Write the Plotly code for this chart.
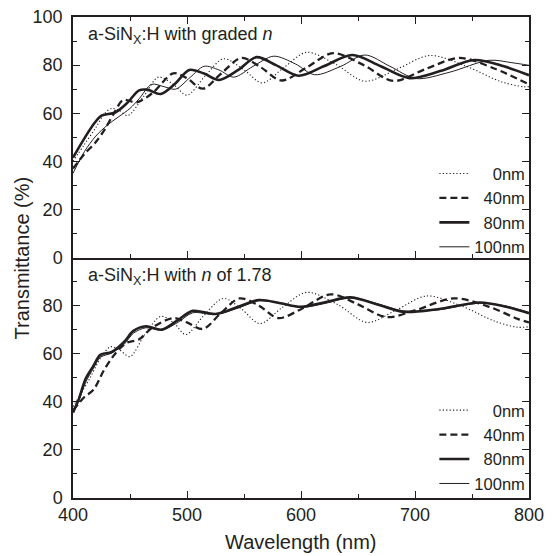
import plotly.graph_objects as go
from plotly.subplots import make_subplots

# ---------------- data ----------------
series_labels = ["0nm", "40nm", "80nm", "100nm"]

# Top panel: a-SiNx:H with graded n
top_0nm_wl = [400, 410, 420, 428, 434, 441, 448, 462, 475, 488, 500, 516, 532, 550, 566, 585, 605, 630, 656, 685, 713, 745, 776, 795, 800]
top_0nm_T = [40, 47, 54, 60, 62, 61, 59, 67, 75, 72, 67.5, 75.5, 82.6, 78, 72.6, 79, 85.3, 80.5, 73.3, 78.5, 84, 79.5, 73, 71, 71]

top_40nm_wl = [400, 410, 420, 428, 436, 444, 456, 470, 488, 500, 514, 530, 548, 565, 583, 605, 628, 655, 681, 710, 739, 770, 800]
top_40nm_T = [37, 43, 48, 53.4, 60, 65.5, 64.5, 68.5, 76.6, 74.5, 70.2, 76.5, 83, 79, 73.6, 79, 85, 80, 73.4, 78.5, 83, 78.5, 72]

top_80nm_wl = [400, 408, 419, 425, 437, 447, 458, 465, 477, 490, 502, 515, 528, 545, 561, 578, 598, 620, 645, 670, 695, 722, 752, 778, 800]
top_80nm_T = [41.5, 48, 56, 59, 60.3, 64, 69.5, 69.8, 68, 72.5, 78, 76.5, 73.8, 78, 83.3, 80, 75.6, 79.5, 84.2, 79.5, 74.6, 77.5, 82.1, 79.5, 75.8]

top_100nm_wl = [400, 410, 420, 430, 440, 450, 458, 469, 480, 490, 503, 515, 528, 541, 558, 576, 595, 612, 635, 656, 678, 701, 730, 765, 785, 800]
top_100nm_T = [35, 44, 50.5, 55, 58.5, 62, 66, 72, 71, 70, 75, 79.5, 78, 75, 79.5, 83.7, 80.5, 76, 79.5, 84.2, 79.5, 74.4, 77, 82, 81, 79.9]

# Bottom panel: a-SiNx:H with n of 1.78
bot_0nm_wl = [400, 406, 415, 424, 433, 441, 450, 463, 477, 488, 499, 515, 532, 548, 564, 583, 605, 632, 658, 683, 710, 740, 770, 790, 800]
bot_0nm_T = [38, 42.7, 50, 58, 62.9, 61.5, 58.8, 68, 75.5, 73, 68, 76, 83, 78.5, 72.5, 79, 85.5, 80.5, 73, 78, 84, 80, 73.5, 71, 71.2]

bot_40nm_wl = [400, 410, 418, 427, 437, 447, 458, 470, 488, 500, 514, 530, 546, 563, 580, 600, 626, 650, 675, 700, 734, 765, 790, 800]
bot_40nm_T = [36.5, 42, 45, 53, 60, 64.5, 66, 71, 74.8, 73, 70.3, 77, 83, 80, 74.8, 78.5, 84.7, 80.5, 75.2, 78, 83, 79.5, 74.5, 73]

bot_80nm_wl = [400, 405, 411, 418, 424, 434, 445, 453, 464, 478, 492, 505, 525, 545, 563, 582, 600, 622, 643, 667, 690, 720, 757, 780, 800]
bot_80nm_T = [35.5, 41, 49.5, 55, 59.5, 60.7, 65, 69.5, 71.4, 70, 74, 77.8, 76.5, 79.5, 82.3, 81, 79.5, 81.5, 83.4, 80.5, 77.4, 78.5, 81.3, 79.5, 76.8]

bot_100nm_wl = [400, 405, 411, 418, 424, 434, 445, 453, 464, 478, 492, 505, 525, 545, 563, 582, 600, 622, 643, 667, 690, 720, 757, 780, 800]
bot_100nm_T = [36, 40.5, 48, 54, 58.5, 60.3, 64, 68.5, 70.8, 69.8, 73, 77, 76.3, 79, 82, 81, 79.2, 81, 83.2, 80.8, 77.8, 78.2, 81, 79.8, 77.2]

x_ticks = [400, 500, 600, 700, 800]
y_ticks_top = [0, 20, 40, 60, 80, 100]
y_ticks_bot = [0, 20, 40, 60, 80, 100]
y_ticktext_bot = ["0", "20", "40", "60", "80", " "]

# ---------------- styles ----------------
INK = "#231f20"
FONT = "Liberation Sans, Arial, Helvetica, sans-serif"
styles = {
    "0nm": dict(color=INK, width=1.1, dash="1.2px,2.2px"),
    "40nm": dict(color=INK, width=2.3, dash="7px,4px"),
    "80nm": dict(color=INK, width=2.6, dash="solid"),
    "100nm": dict(color=INK, width=1.0, dash="solid"),
}
# right-aligned legend names (figure spaces have digit width)
legend_names = {"0nm": "\u2007\u20070nm", "40nm": "\u200740nm", "80nm": "\u200780nm", "100nm": "100nm"}

fig = make_subplots(rows=2, cols=1, shared_xaxes=True, vertical_spacing=0)

top = [(top_0nm_wl, top_0nm_T), (top_40nm_wl, top_40nm_T), (top_80nm_wl, top_80nm_T), (top_100nm_wl, top_100nm_T)]
bot = [(bot_0nm_wl, bot_0nm_T), (bot_40nm_wl, bot_40nm_T), (bot_80nm_wl, bot_80nm_T), (bot_100nm_wl, bot_100nm_T)]

for lab, (xw, yt) in zip(series_labels, top):
    fig.add_trace(go.Scatter(x=xw, y=yt, mode="lines", name=legend_names[lab],
                             line=dict(shape="spline", smoothing=0.9, **styles[lab]),
                             legend="legend"), row=1, col=1)
for lab, (xw, yt) in zip(series_labels, bot):
    fig.add_trace(go.Scatter(x=xw, y=yt, mode="lines", name=legend_names[lab],
                             line=dict(shape="spline", smoothing=0.9, **styles[lab]),
                             legend="legend2"), row=2, col=1)

axis_common = dict(showline=True, linecolor=INK, linewidth=1.5, automargin=False,
                   ticks="inside", ticklen=7, tickwidth=1.2, tickcolor=INK,
                   showgrid=False, zeroline=False, ticklabeloverflow="allow",
                   tickfont=dict(size=18, color=INK, family=FONT))

fig.update_xaxes(range=[400, 800], tickvals=x_ticks,
                 minor=dict(ticks="inside", dtick=50, ticklen=4, tickcolor=INK, showgrid=False),
                 **axis_common)
fig.update_xaxes(showticklabels=False, mirror="ticks", row=1, col=1)
fig.update_xaxes(mirror=False, row=2, col=1)
fig.update_yaxes(range=[0, 100], mirror="ticks", ticklabelstandoff=5,
                 minor=dict(ticks="inside", dtick=10, ticklen=4, tickcolor=INK, showgrid=False),
                 **axis_common)
fig.update_yaxes(tickvals=y_ticks_top, row=1, col=1)
fig.update_yaxes(tickvals=y_ticks_bot, ticktext=y_ticktext_bot, row=2, col=1)

legend_common = dict(x=1.003, xanchor="right", yanchor="bottom", bgcolor="rgba(0,0,0,0)",
                     borderwidth=0, font=dict(size=16.5, color=INK, family=FONT),
                     tracegroupgap=0, itemwidth=30)

# the page body has an 8 px margin: shrink the figure by it so the plot sits as in the reference
fig.update_layout(
    width=545, height=548,
    margin=dict(l=65, r=24, t=9, b=58, autoexpand=False),
    plot_bgcolor="white", paper_bgcolor="white",
    font=dict(family=FONT, color=INK, size=18),
    showlegend=True,
    legend=dict(y=0.486, **legend_common),
    legend2=dict(y=-0.006, **legend_common),
    annotations=[
        dict(text="a-SiN<sub>X</sub>:H with graded <i>n</i>", xref="x", yref="y",
             x=411, y=92.5, xanchor="left", yanchor="middle", showarrow=False,
             font=dict(size=18, color=INK, family=FONT)),
        dict(text="a-SiN<sub>X</sub>:H with <i>n</i> of 1.78", xref="x2", yref="y2",
             x=411, y=92, xanchor="left", yanchor="middle", showarrow=False,
             font=dict(size=18, color=INK, family=FONT)),
        dict(text="Transmittance (%)", xref="paper", yref="paper", x=-0.112, y=0.5,
             textangle=-90, xanchor="center", yanchor="middle", showarrow=False,
             font=dict(size=20, color=INK, family=FONT)),
        dict(text="Wavelength (nm)", xref="paper", yref="paper", x=0.5, y=-0.092,
             xanchor="center", yanchor="middle", showarrow=False,
             font=dict(size=20, color=INK, family=FONT)),
    ],
)

fig.write_html("out.html")
